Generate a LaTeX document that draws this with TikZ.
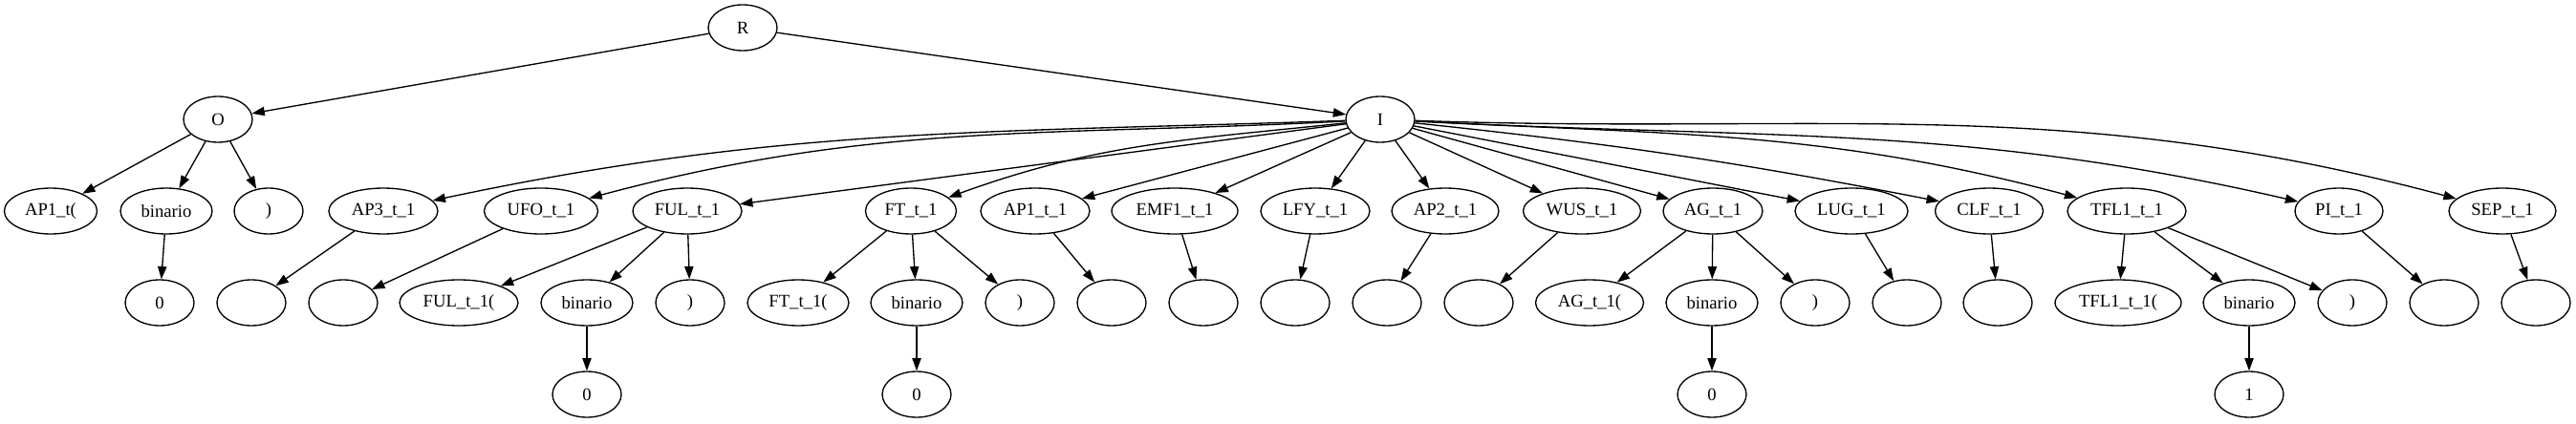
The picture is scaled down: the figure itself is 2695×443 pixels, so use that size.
\documentclass[tikz,border=0pt]{standalone}
\usepackage{fontspec}
\setmainfont{Liberation Serif}
\usetikzlibrary{shapes.geometric, arrows.meta}
\tikzset{wd/.style={minimum width=#1*0.75pt}}

\begin{document}
\begin{tikzpicture}[x=0.75pt, y=0.75pt, font=\fontsize{14}{16}\selectfont]
\tikzstyle{oval} = [ellipse, draw=black, line width=1pt, minimum width=54pt, minimum height=36pt, inner sep=0pt]
\tikzstyle{arrow} = [line width=1pt,->,>={Triangle[length=10pt,width=7pt]}]

\useasboundingbox (0,0) rectangle (2695,443);

%node
\node (R) [oval] at (777,414) {R};
\node (O) [oval] at (228,318) {O};
\node (I) [oval] at (1444,318) {I};

%children of O
\node (OA) [oval, wd=97] at (53,222) {AP1\_t(};
\node (OB) [oval, wd=96] at (174,222) {binario};
\node (OC) [oval] at (281,222) {)};
\node (OBA) [oval] at (167,126) {0};

%children of I
\node (IA) [oval, wd=114] at (401,222) {AP3\_t\_1};
\node (IB) [oval, wd=119] at (566,222) {UFO\_t\_1};
\node (IC) [oval, wd=114] at (719,222) {FUL\_t\_1};
\node (ID) [oval, wd=95] at (953,222) {FT\_t\_1};
\node (IE) [oval, wd=114] at (1083,222) {AP1\_t\_1};
\node (IF) [oval, wd=132] at (1229,222) {EMF1\_t\_1};
\node (IG) [oval, wd=114] at (1376,222) {LFY\_t\_1};
\node (IH) [oval, wd=112] at (1512,222) {AP2\_t\_1};
\node (IJ) [oval, wd=123] at (1655,222) {WUS\_t\_1};
\node (IK) [oval, wd=104] at (1792,222) {AG\_t\_1};
\node (IL) [oval, wd=118] at (1937,222) {LUG\_t\_1};
\node (IM) [oval, wd=113] at (2081,222) {CLF\_t\_1};
\node (IN) [oval, wd=124] at (2225,222) {TFL1\_t\_1};
\node (IP) [oval, wd=92] at (2447,222) {PI\_t\_1};
\node (IQ) [oval, wd=112] at (2618,222) {SEP\_t\_1};

%third row
\node (IAA) [oval] at (263,126) {};
\node (IBA) [oval] at (359,126) {};
\node (ICA) [oval, wd=124] at (480,126) {FUL\_t\_1(};
\node (ICB) [oval, wd=96] at (614,126) {binario};
\node (ICC) [oval] at (722,126) {)};
\node (IDA) [oval, wd=106] at (835,126) {FT\_t\_1(};
\node (IDB) [oval, wd=96] at (959,126) {binario};
\node (IDC) [oval] at (1067,126) {)};
\node (IEA) [oval] at (1163,126) {};
\node (IFA) [oval] at (1259,126) {};
\node (IGA) [oval] at (1355,126) {};
\node (IHA) [oval] at (1451,126) {};
\node (IJA) [oval] at (1547,126) {};
\node (IKA) [oval, wd=113] at (1663,126) {AG\_t\_1(};
\node (IKB) [oval, wd=96] at (1791,126) {binario};
\node (IKC) [oval] at (1899,126) {)};
\node (ILA) [oval] at (1995,126) {};
\node (IMA) [oval] at (2090,126) {};
\node (INA) [oval, wd=132] at (2216,126) {TFL1\_t\_1(};
\node (INB) [oval, wd=96] at (2353,126) {binario};
\node (INC) [oval] at (2461,126) {)};
\node (IPA) [oval] at (2557,126) {};
\node (IQA) [oval] at (2653,126) {};

%bottom row
\node (ICBA) [oval] at (614,30) {0};
\node (IDBA) [oval] at (959,30) {0};
\node (IKBA) [oval] at (1791,30) {0};
\node (INBA) [oval] at (2353,30) {1};

%lines from root
\draw [arrow] (R) -- (O);
\draw [arrow] (R) -- (I);

\draw [arrow] (O) -- (OA);
\draw [arrow] (O) -- (OB);
\draw [arrow] (O) -- (OC);
\draw [arrow] (OB) -- (OBA);

%lines from I
\draw [arrow] (I) to[out=182, in=12] (IA);
\draw [arrow] (I) to[out=183, in=15] (IB);
\draw [arrow] (I) -- (IC);
\draw [arrow] (I) to[out=186, in=20] (ID);
\draw [arrow] (I) -- (IE);
\draw [arrow] (I) -- (IF);
\draw [arrow] (I) -- (IG);
\draw [arrow] (I) -- (IH);
\draw [arrow] (I) -- (IJ);
\draw [arrow] (I) -- (IK);
\draw [arrow] (I) -- (IL);
\draw [arrow] (I) to[out=-6, in=169] (IM);
\draw [arrow] (I) to[out=-3, in=165] (IN);
\draw [arrow] (I) to[out=-3, in=167] (IP);
\draw [arrow] (I) to[out=-2, in=165] (IQ);

%lines to third row
\draw [arrow] (IA) -- (IAA);
\draw [arrow] (IB) -- (IBA);
\draw [arrow] (IC) -- (ICA);
\draw [arrow] (IC) -- (ICB);
\draw [arrow] (IC) -- (ICC);
\draw [arrow] (ID) -- (IDA);
\draw [arrow] (ID) -- (IDB);
\draw [arrow] (ID) -- (IDC);
\draw [arrow] (IE) -- (IEA);
\draw [arrow] (IF) -- (IFA);
\draw [arrow] (IG) -- (IGA);
\draw [arrow] (IH) -- (IHA);
\draw [arrow] (IJ) -- (IJA);
\draw [arrow] (IK) -- (IKA);
\draw [arrow] (IK) -- (IKB);
\draw [arrow] (IK) -- (IKC);
\draw [arrow] (IL) -- (ILA);
\draw [arrow] (IM) -- (IMA);
\draw [arrow] (IN) -- (INA);
\draw [arrow] (IN) -- (INB);
\draw [arrow] (IN) -- (INC);
\draw [arrow] (IP) -- (IPA);
\draw [arrow] (IQ) -- (IQA);

%lines to bottom row
\draw [arrow] (ICB) -- (ICBA);
\draw [arrow] (IDB) -- (IDBA);
\draw [arrow] (IKB) -- (IKBA);
\draw [arrow] (INB) -- (INBA);
\end{tikzpicture}
\end{document}
